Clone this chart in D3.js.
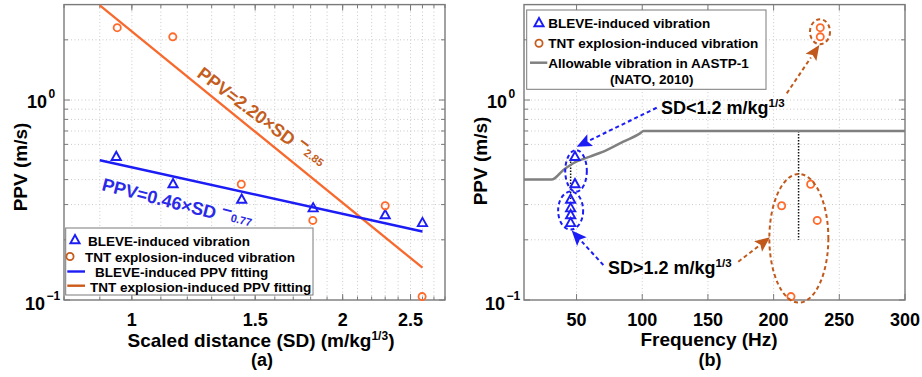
<!DOCTYPE html>
<html><head><meta charset="utf-8">
<script src="https://cdn.jsdelivr.net/npm/d3@7"></script>
<style>
body{margin:0;background:#fff}
svg{font-family:"Liberation Sans",Arial,sans-serif;font-weight:bold}
</style>
</head><body>
<svg id="c" width="922" height="377"></svg>
<script>
// ---------------- data ----------------
// (a) PPV vs scaled distance
const bleveSD  = [0.95, 1.145, 1.435, 1.815, 2.30, 2.60];
const blevePPV = [0.52, 0.38, 0.318, 0.288, 0.266, 0.243];
const tntSD    = [0.953, 1.144, 1.433, 1.813, 2.30, 2.597];
const tntPPV   = [2.30, 2.07, 0.379, 0.250, 0.296, 0.104];
// fitted power laws (end points)
const fitSD       = [0.9, 2.6];
const bleveFitPPV = [0.50, 0.22];
const tntFitPPV   = [2.97, 0.145];
// (b) PPV vs frequency
const bleveFreq = [48.8, 48.8, 45.5, 45.5, 45.5, 45.5];
const tntFreq   = [235.5, 235.5, 228.2, 233.2, 206.1, 213.2];
const allowFreq = [10, 31, 40, 47.5, 60.2, 72.9, 85.6, 98.3, 101, 300];
const allowPPV  = [0.40, 0.40, 0.447, 0.483, 0.521, 0.562, 0.619, 0.681, 0.70, 0.70];
// tick labels
const sdTicks   = [1, 1.5, 2, 2.5];
const freqTicks = [50, 100, 150, 200, 250, 300];
const ppvTicks  = [{v:1, e:"0"}, {v:0.1, e:"−1"}];
const legendA = ["BLEVE-induced vibration","TNT explosion-induced vibration","BLEVE-induced PPV fitting","TNT explosion-induced PPV fitting"];
const legendB = ["BLEVE-induced vibration","TNT explosion-induced vibration","Allowable vibration in AASTP-1","(NATO, 2010)"];

// ---------------- styles ----------------
const BLUE="#1c1cf5", BLUETXT="#2a2ae8", ORANGE="#ff6a2a", ORLINE="#f7692c",
      ORTXT="#c45d1d", ORDASH="#c0591b", GRAY="#808080", FRAME="#7a7a7a", GRID="#c9c9c9";

const svg = d3.select("#c");
const yTop=4.6, yBot=300;
const y = d3.scaleLog().domain([0.1,3]).range([yBot, yTop]);
const xa = d3.scaleLog().domain([0.8,2.8]).range([64,445]);
const xb = d3.scaleLinear().domain([10,300]).range([524,905]);

const minorPPV=[0.2,0.3,0.4,0.5,0.6,0.7,0.8,0.9,1,2];

function frame(x, xGrid, xTicksMaj, xTicksMin){
  const [x0,x1]=x.range();
  const g=svg.append("g");
  g.selectAll(".gy").data(minorPPV).join("line")
    .attr("x1",x0).attr("x2",x1).attr("y1",d=>y(d)).attr("y2",d=>y(d))
    .attr("stroke",GRID).attr("stroke-dasharray","1,2.5");
  g.selectAll(".gx").data(xGrid).join("line")
    .attr("x1",d=>x(d)).attr("x2",d=>x(d)).attr("y1",yTop).attr("y2",yBot)
    .attr("stroke",GRID).attr("stroke-dasharray","1,2.5");
  const yt=minorPPV.concat([0.1]);
  yt.forEach(d=>{
    const L=(d===1||d===0.1)?6:4;
    g.append("line").attr("x1",x0).attr("x2",x0+L).attr("y1",y(d)).attr("y2",y(d)).attr("stroke",FRAME);
    g.append("line").attr("x1",x1).attr("x2",x1-L).attr("y1",y(d)).attr("y2",y(d)).attr("stroke",FRAME);
  });
  xTicksMaj.forEach(d=>{
    g.append("line").attr("x1",x(d)).attr("x2",x(d)).attr("y1",yBot).attr("y2",yBot-6).attr("stroke",FRAME);
    g.append("line").attr("x1",x(d)).attr("x2",x(d)).attr("y1",yTop).attr("y2",yTop+6).attr("stroke",FRAME);
  });
  xTicksMin.forEach(d=>{
    g.append("line").attr("x1",x(d)).attr("x2",x(d)).attr("y1",yBot).attr("y2",yBot-3.5).attr("stroke",FRAME);
    g.append("line").attr("x1",x(d)).attr("x2",x(d)).attr("y1",yTop).attr("y2",yTop+3.5).attr("stroke",FRAME);
  });
  g.append("rect").attr("x",x0).attr("y",yTop).attr("width",x1-x0).attr("height",yBot-yTop)
    .attr("fill","none").attr("stroke",FRAME).attr("stroke-width",1.4);
  ppvTicks.forEach(t=>{
    const off = t.v===1 ? 17 : 19, bl = t.v===1 ? 8 : 10;
    g.append("text").attr("x",x0-off).attr("y",y(t.v)+bl).attr("text-anchor","end")
      .attr("font-size",18).text("10");
    g.append("text").attr("x",x0-off+1.5).attr("y",y(t.v)+bl-10).attr("font-size",12).text(t.e);
  });
  g.selectAll(".xl").data(xTicksMaj).join("text")
    .attr("x",d=>x(d)).attr("y",326).attr("text-anchor","middle").attr("font-size",18).text(d=>d);
  return g;
}

function tri(sel, cx, cy, col){
  sel.append("path").attr("d",`M${cx},${cy-5}L${cx+4.6},${cy+3.2}L${cx-4.6},${cy+3.2}Z`)
    .attr("fill","none").attr("stroke",col).attr("stroke-width",1.9).attr("stroke-linejoin","miter");
}
function circ(sel, cx, cy, col){
  sel.append("circle").attr("cx",cx).attr("cy",cy).attr("r",3.6)
    .attr("fill","none").attr("stroke",col).attr("stroke-width",1.8);
}

// ---------------- panel (a) ----------------
const sdMinor=d3.range(8,29).map(d=>d/10);
const ga = frame(xa, d3.range(9,28).map(d=>d/10), sdTicks, sdMinor);
const line = d3.line();
ga.append("path").attr("d",line(fitSD.map((s,i)=>[xa(s),y(tntFitPPV[i])])))
  .attr("stroke",ORLINE).attr("stroke-width",2.3).attr("fill","none");
ga.append("path").attr("d",line(fitSD.map((s,i)=>[xa(s),y(bleveFitPPV[i])])))
  .attr("stroke",BLUE).attr("stroke-width",2.6).attr("fill","none");
bleveSD.forEach((s,i)=>tri(ga, xa(s), y(blevePPV[i]), BLUE));
tntSD.forEach((s,i)=>circ(ga, xa(s), y(tntPPV[i]), ORANGE));

function eq(tr, col, main, expo){
  const t = ga.append("text").attr("transform",tr).attr("fill",col).attr("font-size",18);
  t.append("tspan").text(main+" ");
  t.append("tspan").attr("dy",-6).attr("font-size",18).text("−");
  t.append("tspan").attr("dy",4).attr("font-size",11).text(expo);
}
eq("translate(196,76) rotate(37)", ORTXT, "PPV=2.20×SD", "2.85");
eq("translate(101,190) rotate(14.5)", BLUETXT, "PPV=0.46×SD", "0.77");

ga.append("rect").attr("x",65.7).attr("y",228).attr("width",247.3).attr("height",67)
  .attr("fill","#fff").attr("stroke",FRAME).attr("stroke-width",1);
const la=[[88,241],[85,257],[95,272],[90,287]];
tri(ga,75,240,BLUE); circ(ga,70,256.5,ORTXT);
ga.append("line").attr("x1",67.3).attr("x2",85).attr("y1",271.5).attr("y2",271.5).attr("stroke",BLUE).attr("stroke-width",2.4);
ga.append("line").attr("x1",67.3).attr("x2",85).attr("y1",285.7).attr("y2",285.7).attr("stroke","#cc5a1a").attr("stroke-width",2.4);
legendA.forEach((t,i)=>ga.append("text").attr("x",la[i][0]).attr("y",la[i][1]+5).attr("font-size",13.5).text(t));

ga.append("text").attr("transform","translate(27,167) rotate(-90)").attr("text-anchor","middle")
  .attr("font-size",19).text("PPV (m/s)");
const xt=ga.append("text").attr("x",261).attr("y",347).attr("text-anchor","middle").attr("font-size",19);
xt.append("tspan").text("Scaled distance (SD) (m/kg");
xt.append("tspan").attr("dy",-7).attr("font-size",12).text("1/3");
xt.append("tspan").attr("dy",7).text(")");
ga.append("text").attr("x",262).attr("y",366).attr("text-anchor","middle").attr("font-size",18).text("(a)");

// ---------------- panel (b) ----------------
const gb = frame(xb, [50,100,150,200,250], freqTicks, []);
gb.append("line").attr("x1",xb(45.5)).attr("x2",xb(45.5)).attr("y1",y(0.51)).attr("y2",y(0.316))
  .attr("stroke","#111").attr("stroke-width",1.5).attr("stroke-dasharray","1.5,1.5");
gb.append("line").attr("x1",xb(219)).attr("x2",xb(219)).attr("y1",y(0.70)).attr("y2",y(0.2))
  .attr("stroke","#111").attr("stroke-width",1.5).attr("stroke-dasharray","1.5,1.5");
gb.append("path").attr("d",d3.line().curve(d3.curveMonotoneX)(allowFreq.map((f,i)=>[xb(f),y(allowPPV[i])])))
  .attr("stroke",GRAY).attr("stroke-width",2.5).attr("fill","none");
bleveFreq.forEach((f,i)=>tri(gb, xb(f), y(blevePPV[i]), BLUE));
tntFreq.forEach((f,i)=>circ(gb, xb(f), y(tntPPV[i]), ORANGE));

const ells=[
  {f:49.6, p:0.442, rx:10.8, ry:20.8, c:BLUE},
  {f:45.5, p:0.280, rx:12.5, ry:19,   c:BLUE},
  {f:235.3,p:2.195, rx:10,   ry:12.5, c:ORDASH},
  {f:219.2,p:0.2035,rx:29.5, ry:64.3, c:ORDASH}];
ells.forEach(e=>gb.append("ellipse").attr("cx",xb(e.f)).attr("cy",y(e.p)).attr("rx",e.rx).attr("ry",e.ry)
  .attr("fill","none").attr("stroke",e.c).attr("stroke-width",2).attr("stroke-dasharray","4,3"));

function arrow(f0,p0,f1,p1,col){
  const x0=xb(f0),y0=y(p0),x1=xb(f1),y1=y(p1);
  const a=Math.atan2(y1-y0,x1-x0), L=15, W=6.5;
  const bx=x1-L*Math.cos(a), by=y1-L*Math.sin(a);
  gb.append("line").attr("x1",x0).attr("y1",y0).attr("x2",bx).attr("y2",by)
    .attr("stroke",col).attr("stroke-width",2).attr("stroke-dasharray","4,3");
  const nx=-Math.sin(a), ny=Math.cos(a);
  gb.append("path").attr("d",`M${x1},${y1}L${bx+W*nx},${by+W*ny}L${bx+3*Math.cos(a)},${by+3*Math.sin(a)}L${bx-W*nx},${by-W*ny}Z`)
    .attr("fill",col);
}
arrow(111,0.915,50.1,0.584,BLUE);
arrow(210,1.08,234.8,1.884,ORDASH);
arrow(70.4,0.1496,46.3,0.2223,BLUE);
arrow(173.1,0.1553,197.2,0.2057,ORDASH);

function sdLabel(x,yb,op){
  const t=gb.append("text").attr("x",x).attr("y",yb).attr("font-size",18);
  t.append("tspan").text(`SD${op}1.2 m/kg`);
  t.append("tspan").attr("dy",-7).attr("font-size",11.5).text("1/3");
}
sdLabel(661,114,"<");
sdLabel(608,274,">");

gb.append("rect").attr("x",526.7).attr("y",10).attr("width",239.3).attr("height",79.3)
  .attr("fill","#fff").attr("stroke",FRAME).attr("stroke-width",1);
tri(gb,539,23,BLUE); circ(gb,539,43.3,ORTXT);
gb.append("line").attr("x1",530).attr("x2",547.3).attr("y1",62.7).attr("y2",62.7).attr("stroke",GRAY).attr("stroke-width",2.5);
gb.append("text").attr("x",548.3).attr("y",27.5).attr("font-size",13.5).text(legendB[0]);
gb.append("text").attr("x",548.3).attr("y",48).attr("font-size",13.5).text(legendB[1]);
gb.append("text").attr("x",548.3).attr("y",67.5).attr("font-size",13.5).text(legendB[2]);
gb.append("text").attr("x",651.7).attr("y",84).attr("text-anchor","middle").attr("font-size",13.5).text(legendB[3]);

gb.append("text").attr("transform","translate(487,161) rotate(-90)").attr("text-anchor","middle")
  .attr("font-size",19).text("PPV (m/s)");
gb.append("text").attr("x",709).attr("y",346).attr("text-anchor","middle").attr("font-size",19).text("Frequency (Hz)");
gb.append("text").attr("x",710).attr("y",366).attr("text-anchor","middle").attr("font-size",18).text("(b)");
</script>
</body></html>
